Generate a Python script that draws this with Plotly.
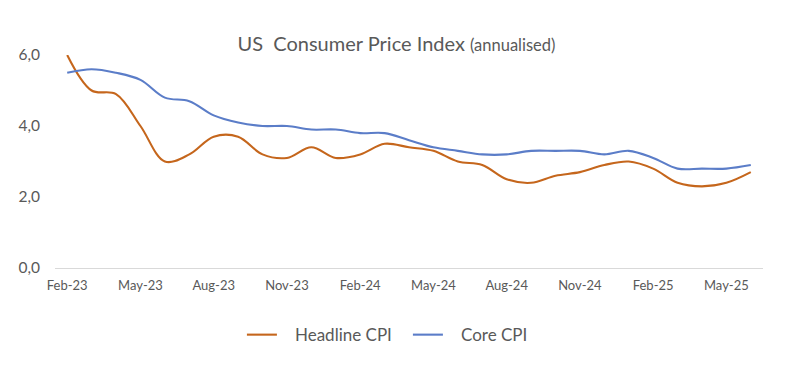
import plotly.graph_objects as go

months = ["Feb-23","Mar-23","Apr-23","May-23","Jun-23","Jul-23","Aug-23","Sep-23","Oct-23","Nov-23","Dec-23",
          "Jan-24","Feb-24","Mar-24","Apr-24","May-24","Jun-24","Jul-24","Aug-24","Sep-24","Oct-24","Nov-24","Dec-24",
          "Jan-25","Feb-25","Mar-25","Apr-25","May-25","Jun-25"]
headline = [6.0,5.0,4.9,4.0,3.0,3.2,3.7,3.7,3.2,3.1,3.4,3.1,3.2,3.5,3.4,3.3,3.0,2.9,2.5,2.4,2.6,2.7,2.9,3.0,2.8,2.4,2.3,2.4,2.7]
core = [5.5,5.6,5.5,5.3,4.8,4.7,4.3,4.1,4.0,4.0,3.9,3.9,3.8,3.8,3.6,3.4,3.3,3.2,3.2,3.3,3.3,3.3,3.2,3.3,3.1,2.8,2.8,2.8,2.9]
tick_labels = ["Feb-23","May-23","Aug-23","Nov-23","Feb-24","May-24","Aug-24","Nov-24","Feb-25","May-25"]
series_names = ["Headline CPI", "Core CPI"]

idx = list(range(len(months)))
tick_vals = [months.index(t) for t in tick_labels]

FONT = "Lato"
GRAY = "#595959"
PAD = "\u00a0\u00a0\u00a0"

fig = go.Figure()
fig.add_trace(go.Scatter(x=idx, y=headline, name=PAD + series_names[0], mode="lines",
                         line=dict(color="#C5661C", width=2.1, shape="spline", smoothing=1.0),
                         customdata=months, hovertemplate="%{customdata}: %{y}<extra></extra>"))
fig.add_trace(go.Scatter(x=idx, y=core, name=PAD + series_names[1], mode="lines",
                         line=dict(color="#5B7DC8", width=2.1, shape="spline", smoothing=1.0),
                         customdata=months, hovertemplate="%{customdata}: %{y}<extra></extra>"))

fig.update_layout(
    width=810, height=380,
    margin=dict(l=47, r=55, t=47, b=120),
    paper_bgcolor="white", plot_bgcolor="white",
    separators=", ",
    font=dict(family=FONT, color=GRAY),
    title=dict(text="US  Consumer Price Index <span style='font-size:16.5px'>(annualised)</span>",
               x=0.4796, xanchor="center", y=0.905, yanchor="middle",
               font=dict(size=20, color=GRAY, family=FONT)),
    xaxis=dict(range=[-0.5, len(months) - 0.5], tickmode="array", tickvals=tick_vals, ticktext=tick_labels,
               showgrid=False, zeroline=False, showline=True, linecolor="#D9D9D9", linewidth=1,
               ticks="", tickfont=dict(size=13, color=GRAY, family=FONT), ticklabelstandoff=5,
               automargin=False),
    yaxis=dict(range=[0, 6], tickvals=[0, 2, 4, 6], tickformat=".1f", showgrid=False, zeroline=False,
               showline=False, ticks="", tickfont=dict(size=15.5, color=GRAY, family=FONT), ticklabelstandoff=14,
               automargin=False),
    showlegend=True,
    legend=dict(orientation="h", x=0.264, xanchor="left", y=-0.315, yanchor="middle",
                entrywidth=121, entrywidthmode="pixels",
                font=dict(size=17, color=GRAY, family=FONT), tracegroupgap=0),
)
fig.update_traces(cliponaxis=False)

fig.write_html("out.html")
